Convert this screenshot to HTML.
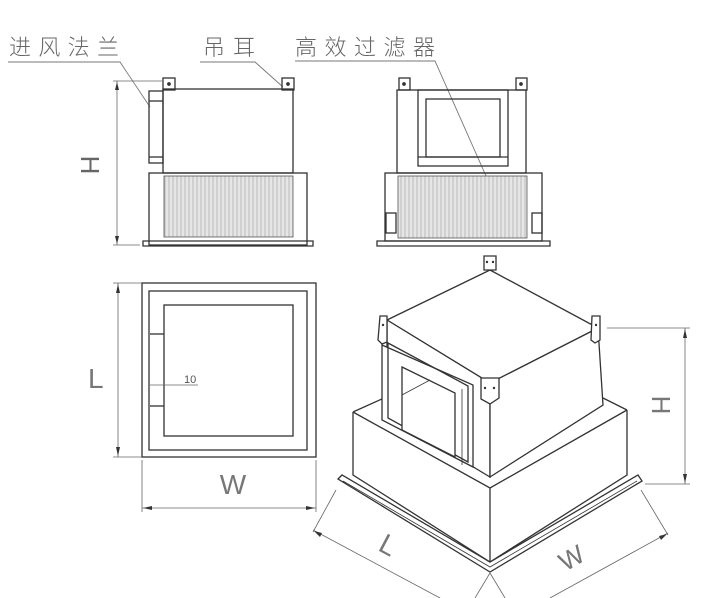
<!DOCTYPE html>
<html><head><meta charset="utf-8"><style>
html,body{margin:0;padding:0;background:#fff;}
svg{display:block;}
text{font-family:"Liberation Sans","Noto Sans CJK SC",sans-serif;}
</style></head><body>
<svg width="720" height="598" viewBox="0 0 720 598" xmlns="http://www.w3.org/2000/svg">
<defs>
<pattern id="hatch" width="4" height="10" patternUnits="userSpaceOnUse">
<rect width="4" height="10" fill="#e6e6e6"/><line x1="1" y1="0" x2="1" y2="10" stroke="#b0b0b0" stroke-width="0.8"/>
</pattern>
</defs>
<rect width="720" height="598" fill="#fff"/>
<g fill="none" stroke="#333" stroke-width="1.3">
<g stroke="none" fill="#666" font-size="22" font-family="'Noto Sans CJK SC',sans-serif" font-weight="300">
<text x="9" y="55" textLength="110">进风法兰</text>
<text x="203" y="55" textLength="52">吊耳</text>
<text x="295" y="55" textLength="140">高效过滤器</text>
</g>
<g stroke="#777" stroke-width="0.9">
<polyline points="8,62 120,62 150,107"/>
<polyline points="200,62 255,62 283,87"/>
<polyline points="295,61 435,61 490,185"/>
</g>

<!-- left front view -->
<rect x="163" y="78" width="12" height="12"/><rect x="282" y="78" width="12" height="12"/>
<circle cx="169" cy="84" r="1.2" fill="#333"/><circle cx="288" cy="84" r="1.2" fill="#333"/>
<rect x="163" y="89" width="130" height="84"/>
<rect x="149" y="91" width="14" height="72"/>
<line x1="149" y1="101" x2="163" y2="101"/><line x1="149" y1="157" x2="163" y2="157"/>
<rect x="149" y="173" width="158" height="72"/>
<rect x="164" y="176" width="129" height="61" fill="url(#hatch)" stroke="#555" stroke-width="0.8"/>
<path d="M143 241 H313 V246 H143 Z"/>
<g stroke="#666" stroke-width="0.8">
<line x1="117" y1="81" x2="117" y2="245"/>
<line x1="113" y1="81" x2="163" y2="81"/><line x1="113" y1="245" x2="140" y2="245"/>
</g>
<path d="M117 82 l-2 8 h4z M117 244 l-2 -8 h4z" fill="#333" stroke="none"/>
<text x="88" y="172" font-size="26" fill="#666" stroke="none" transform="rotate(90 88 165)" text-anchor="middle">H</text>

<!-- right front view -->
<rect x="399" y="78" width="11" height="12"/><rect x="516" y="78" width="11" height="12"/>
<circle cx="404" cy="84" r="1.2" fill="#333"/><circle cx="521" cy="84" r="1.2" fill="#333"/>
<rect x="397" y="90" width="129" height="83"/>
<rect x="418" y="90" width="90" height="76"/>
<rect x="426" y="99" width="74" height="58"/>
<line x1="418" y1="157" x2="508" y2="157"/>
<rect x="385" y="173" width="157" height="68"/>
<rect x="398" y="176" width="129" height="62" fill="url(#hatch)" stroke="#555" stroke-width="0.8"/>
<rect x="386" y="213" width="10" height="20"/><rect x="532" y="213" width="10" height="20"/>
<path d="M377 241 H550 V246 H377 Z"/>

<!-- top view -->
<rect x="142" y="283" width="174" height="174"/>
<rect x="149" y="291" width="158" height="159"/>
<rect x="164" y="305" width="129" height="131"/>
<line x1="150" y1="334" x2="164" y2="334"/><line x1="150" y1="406" x2="164" y2="406"/>
<g stroke="#666" stroke-width="0.8">
<line x1="150" y1="385" x2="198" y2="385"/>
<line x1="118" y1="283" x2="118" y2="457"/>
<line x1="113" y1="283" x2="142" y2="283"/><line x1="113" y1="457" x2="142" y2="457"/>
<line x1="142" y1="508" x2="316" y2="508"/>
<line x1="142" y1="460" x2="142" y2="512"/><line x1="316" y1="460" x2="316" y2="512"/>
</g>
<text x="184" y="383" font-size="11" fill="#555" stroke="none">10</text>
<path d="M118 284 l-2 9 h4z M118 456 l-2 -9 h4z M143 508 l9 -2 v4z M315 508 l-9 -2 v4z" fill="#333" stroke="none"/>
<text x="88" y="388" font-size="28" fill="#777" stroke="none" font-weight="300">L</text>
<text x="233" y="494" font-size="28" fill="#777" stroke="none" text-anchor="middle">W</text>

<!-- iso view: base flange -->
<polygon points="338,479 342,475 490,562 638,475 642,481 490,572"/>
<polyline points="343,481 490,567 637,481" stroke-width="0.8"/>
<!-- lower box -->
<polyline points="353,412 353,475 490,562 627,475 627,410"/>
<line x1="490" y1="488" x2="490" y2="562"/>
<line x1="353" y1="412" x2="384" y2="398"/>
<polyline points="353,412 490,488 627,410"/>
<line x1="627" y1="410" x2="603" y2="398"/>
<!-- upper box -->
<polygon points="387,320 490,270 598,328 490,383" fill="#fff"/>
<polygon points="387,320 490,383 490,477 387,415" fill="#fff"/>
<polygon points="490,383 598,328 603,405 490,477" fill="#fff"/>
<!-- flange window on left face -->
<polygon points="382,345 473,385 473,467 382,420" fill="#fff"/>
<polygon points="388,343 468,386 468,462 388,418"/>
<polygon points="402,367 455,393 455,457 402,430" fill="#fff"/>
<line x1="402" y1="395" x2="430" y2="380" stroke-width="0.8"/>
<line x1="462" y1="389" x2="462" y2="465" stroke-width="0.8"/>
<!-- ears -->
<g fill="#fff">
<path d="M380 316 h7 v26 l-5 2 l-4 -4z"/>
<path d="M484 256 h12 v14 h-12z"/>
<path d="M592 316 h8 v24 l-5 3 l-4 -3z"/>
<path d="M481 378 h18 v20 l-9 6 l-9 -5z"/>
</g>
<g fill="#333" stroke="none">
<circle cx="383" cy="325" r="1.2"/><circle cx="487" cy="262" r="1.2"/><circle cx="493" cy="262" r="1.2"/>
<circle cx="596" cy="325" r="1.2"/><circle cx="485" cy="388" r="1.2"/><circle cx="494" cy="388" r="1.2"/>
</g>
<!-- iso dims -->
<g stroke="#666" stroke-width="0.8">
<line x1="607" y1="328" x2="690" y2="328"/><line x1="645" y1="484" x2="690" y2="484"/>
<line x1="685" y1="328" x2="685" y2="484"/>
<line x1="336" y1="490" x2="313" y2="532"/><line x1="641" y1="490" x2="668" y2="535"/>
<line x1="313" y1="530" x2="440" y2="598"/><line x1="668" y1="533" x2="550" y2="598"/>
<line x1="490" y1="573" x2="475" y2="598"/><line x1="490" y1="573" x2="505" y2="598"/>
</g>
<path d="M685 329 l-2 9 h4z M685 483 l-2 -9 h4z M314 531 l8 2 l-2 4z M667 534 l-8 2 l2 4z" fill="#333" stroke="none"/>
<text x="657" y="410" font-size="26" fill="#777" stroke="none" transform="rotate(90 657 405)" text-anchor="middle">H</text>
<text x="380" y="553" font-size="28" fill="#777" stroke="none" transform="rotate(28 385 545)">L</text>
<text x="560" y="568" font-size="26" fill="#777" stroke="none" transform="rotate(-30 570 560)">W</text>
</g>
</svg>
</body></html>
